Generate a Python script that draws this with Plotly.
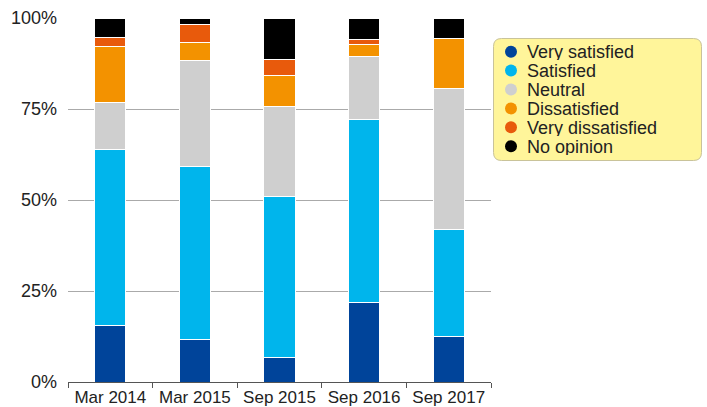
import plotly.graph_objects as go

categories = ["Mar 2014", "Mar 2015", "Sep 2015", "Sep 2016", "Sep 2017"]
series_names = ["Very satisfied", "Satisfied", "Neutral", "Dissatisfied", "Very dissatisfied", "No opinion"]
very_satisfied = [15.6, 11.8, 6.6, 21.9, 12.6]
satisfied = [48.2, 47.4, 44.5, 50.1, 29.2]
neutral = [13.0, 29.0, 24.5, 17.4, 38.7]
dissatisfied = [15.5, 5.1, 8.6, 3.2, 13.8]
very_dissatisfied = [2.4, 4.9, 4.5, 1.4, 0.0]
no_opinion = [5.3, 1.8, 11.3, 6.0, 5.7]
colors = ["#00449a", "#00b5ec", "#cfcfcf", "#f39200", "#e85a0c", "#000000"]
y_ticks = [0, 25, 50, 75, 100]
y_tick_labels = ["0%", "25%", "50%", "75%", "100%"]

series_values = [very_satisfied, satisfied, neutral, dissatisfied, very_dissatisfied, no_opinion]

W, H = 707, 407
ML, MR, MT, MB = 68, 216, 18, 25
FONT = "Liberation Sans"

fig = go.Figure()
for name, vals, col in zip(series_names, series_values, colors):
    fig.add_trace(go.Bar(
        x=categories, y=vals, name=name,
        marker=dict(color=col, line=dict(color="white", width=1)),
        showlegend=False,
    ))

# pixel -> paper helpers for the custom legend
pw = W - ML - MR
ph = H - MT - MB
def px(x):
    return (x - ML) / pw
def py(y):
    return (H - MB - y) / ph

shapes = []
# rounded legend box
x0, x1, y0, y1, r = 493.5, 701.5, 38.5, 160.5, 8
path = (f"M {px(x0+r)},{py(y0)} L {px(x1-r)},{py(y0)} "
        f"Q {px(x1)},{py(y0)} {px(x1)},{py(y0+r)} "
        f"L {px(x1)},{py(y1-r)} Q {px(x1)},{py(y1)} {px(x1-r)},{py(y1)} "
        f"L {px(x0+r)},{py(y1)} Q {px(x0)},{py(y1)} {px(x0)},{py(y1-r)} "
        f"L {px(x0)},{py(y0+r)} Q {px(x0)},{py(y0)} {px(x0+r)},{py(y0)} Z")
shapes.append(dict(type="path", path=path, xref="paper", yref="paper",
                   fillcolor="#fff59a", line=dict(color="#c9c39a", width=1), layer="above"))

annotations = []
row_y0, row_dy = 51.7, 18.9
for i, (name, col) in enumerate(zip(series_names, colors)):
    cy = row_y0 + i * row_dy
    shapes.append(dict(type="circle", xref="paper", yref="paper",
                       xsizemode="pixel", ysizemode="pixel",
                       xanchor=px(511), yanchor=py(cy),
                       x0=-6, x1=6, y0=-6, y1=6,
                       fillcolor=col, line=dict(width=0), layer="above"))
    annotations.append(dict(text=name, xref="paper", yref="paper",
                            x=px(526), y=py(cy), xanchor="left", yanchor="middle",
                            height=17, borderpad=0, valign="middle",
                            showarrow=False, font=dict(family=FONT, size=18, color="#222")))

fig.update_layout(
    barmode="stack",
    bargap=0.63,
    width=W, height=H,
    margin=dict(l=ML, r=MR, t=MT, b=MB, pad=0, autoexpand=False),
    paper_bgcolor="white", plot_bgcolor="white",
    font=dict(family=FONT, size=18, color="#222"),
    shapes=shapes, annotations=annotations,
    xaxis=dict(
        showline=True, linecolor="#555", linewidth=1,
        ticks="outside", tickson="boundaries", ticklen=5, tickcolor="#555",
        showgrid=False, tickfont=dict(size=17), tickangle=0, automargin=False,
    ),
    yaxis=dict(
        range=[0, 100], tickvals=y_ticks, ticktext=y_tick_labels,
        showgrid=True, gridcolor="#aaaaaa", gridwidth=1,
        zeroline=False, showline=False, ticks="", ticklabelstandoff=10,
        tickfont=dict(size=18), automargin=False,
    ),
)

fig.write_html("out.html", config={"displayModeBar": False},
               post_script="document.body.style.margin='0';document.body.style.overflow='hidden';")
